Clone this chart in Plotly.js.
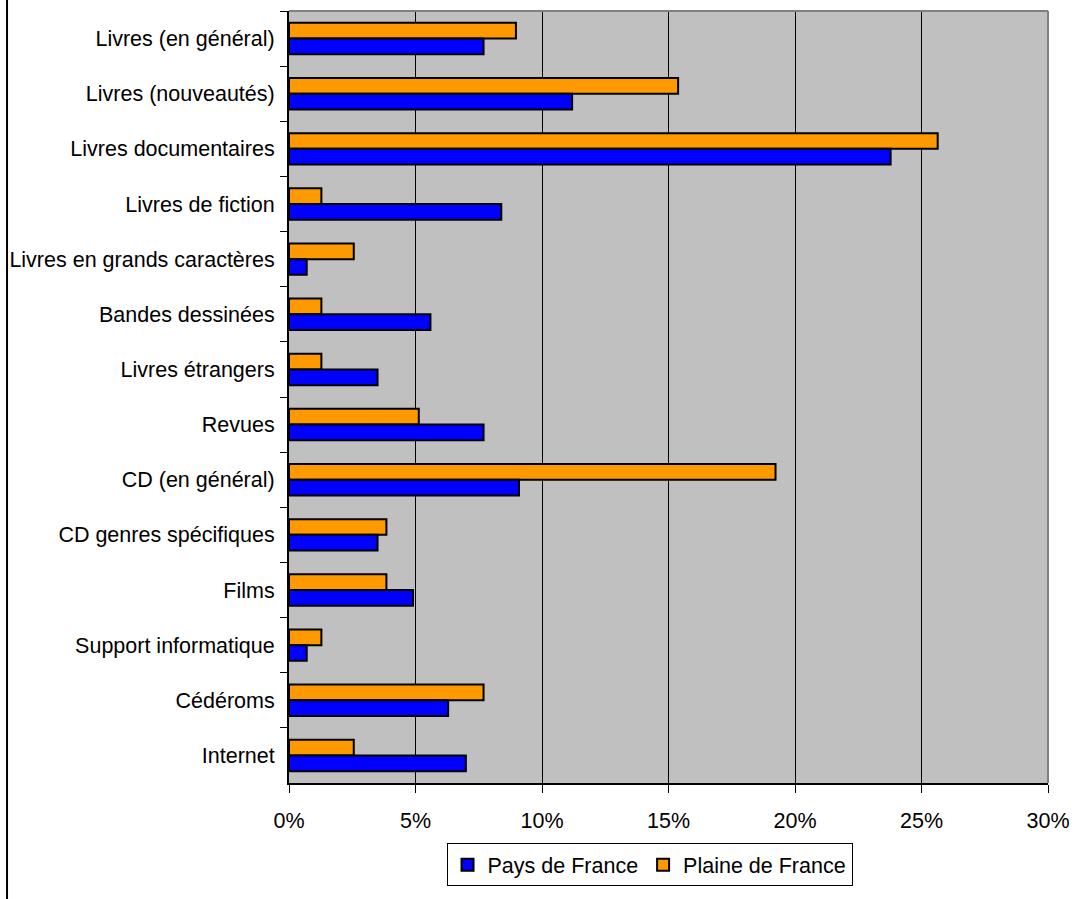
<!DOCTYPE html>
<html>
<head>
<meta charset="utf-8">
<script src="https://cdn.plot.ly/plotly-3.0.1.min.js"></script>
<style>html,body{margin:0;padding:0;background:#fff;}#chart{width:1080px;height:899px;}</style>
</head>
<body>
<div id="chart"></div>
<script>
// Categories, top to bottom
const categories = [
  "Livres (en général)",
  "Livres (nouveautés)",
  "Livres documentaires",
  "Livres de fiction",
  "Livres en grands caractères",
  "Bandes dessinées",
  "Livres étrangers",
  "Revues",
  "CD (en général)",
  "CD genres spécifiques",
  "Films",
  "Support informatique",
  "Cédéroms",
  "Internet"
];
// Values in percent
const paysDeFrance = [7.69, 11.19, 23.78, 8.39, 0.70, 5.59, 3.50, 7.69, 9.09, 3.50, 4.90, 0.70, 6.29, 6.99];
const plaineDeFrance = [8.97, 15.38, 25.64, 1.28, 2.56, 1.28, 1.28, 5.13, 19.23, 3.85, 3.85, 1.28, 7.69, 2.56];
const seriesNames = ["Pays de France", "Plaine de France"];
const xTickValues = [0, 5, 10, 15, 20, 25, 30];
const xTickLabels = ["0%", "5%", "10%", "15%", "20%", "25%", "30%"];

const font = {family: "Liberation Sans, Arial, sans-serif", size: 21.5, color: "#000"};

const traces = [
  {
    type: "bar", orientation: "h", name: seriesNames[1],
    x: plaineDeFrance, y: categories,
    marker: {color: "#FF9900", line: {color: "#000", width: 2}},
    hoverinfo: "x+y"
  },
  {
    type: "bar", orientation: "h", name: seriesNames[0],
    x: paysDeFrance, y: categories,
    marker: {color: "#0000FF", line: {color: "#000", width: 2}},
    hoverinfo: "x+y"
  }
];

const layout = {
  width: 1080, height: 899,
  margin: {l: 289, r: 32, t: 11, b: 116, pad: 0},
  paper_bgcolor: "#fff",
  plot_bgcolor: "#C0C0C0",
  font: font,
  barmode: "group",
  bargap: 0.43,
  bargroupgap: 0,
  showlegend: true,
  legend: {
    orientation: "h", traceorder: "reversed",
    x: 0.475, xanchor: "center", y: -0.078, yanchor: "top",
    bgcolor: "#fff", bordercolor: "#000", borderwidth: 1,
    font: font, itemwidth: 30, tracegroupgap: 0
  },
  xaxis: {
    range: [0, 30], tickmode: "array", tickvals: xTickValues, ticktext: xTickLabels,
    showgrid: true, gridcolor: "#000", gridwidth: 1,
    zeroline: false, showline: true, linecolor: "#000", linewidth: 2,
    ticks: "outside", ticklen: 8, tickcolor: "#000", tickwidth: 1,
    ticklabelstandoff: 9,
    tickfont: font, fixedrange: true
  },
  yaxis: {
    type: "category", autorange: "reversed",
    showgrid: false, zeroline: false,
    showline: true, linecolor: "#000", linewidth: 2,
    ticks: "outside", ticklen: 7, tickcolor: "#000", tickwidth: 1,
    tickson: "boundaries", ticklabelstandoff: 8,
    tickfont: font, fixedrange: true
  },
  shapes: [
    {type: "line", xref: "paper", yref: "paper", x0: 0, x1: 1, y0: 1, y1: 1,
     line: {color: "#808080", width: 2}, layer: "above"},
    {type: "line", xref: "paper", yref: "paper", x0: 1, x1: 1, y0: 0, y1: 1,
     line: {color: "#808080", width: 2}, layer: "above"},
    {type: "line", xref: "paper", yref: "paper", x0: -0.3715, x1: -0.3715, y0: -0.16, y1: 1.02,
     line: {color: "#000", width: 2}, layer: "above"}
  ]
};

Plotly.newPlot("chart", traces, layout, {displayModeBar: false, staticPlot: true});
</script>
</body>
</html>
